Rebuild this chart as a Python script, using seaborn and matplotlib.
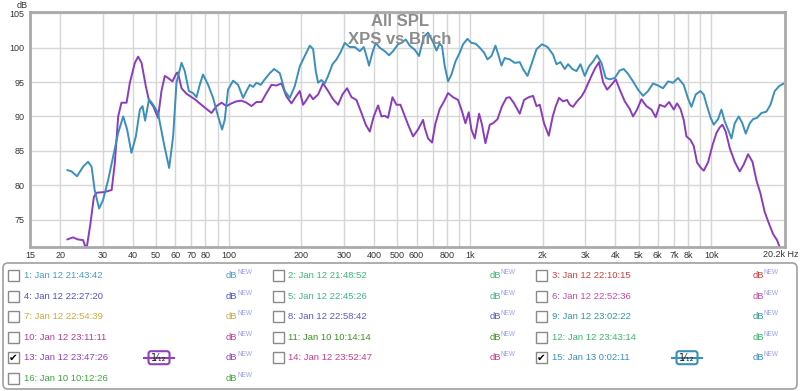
import pandas as pd
import seaborn as sns
import matplotlib.pyplot as plt
from matplotlib.patches import FancyBboxPatch, Rectangle

# Measurement 13 (purple) - frequency in Hz, SPL in dB
freq_13 = [21.4, 22.6, 23.7, 24.9, 25.7, 26.7, 27.6, 28.3, 30.6, 32.7, 33.7, 34.8, 35.9, 37.7, 38.9,
           40.8, 42.1, 43.5, 45.3, 46.7, 48.6, 50.9, 52.6, 54.3, 56.0, 58.4, 60.7, 61.5, 63.7, 66.8,
           72.3, 78.2, 84.8, 88.9, 93.3, 97.8, 102.6, 107.6, 112.9, 118.4, 124.2, 130.2, 136.6, 143.3,
           150.3, 157.6, 165.3, 173.4, 181.9, 188.9, 196.9, 203.2, 209.9, 216.6, 223.6, 234.5, 245.9,
           258.0, 270.5, 283.8, 296.0, 309.3, 322.6, 338.2, 354.7, 369.6, 383.9, 398.9, 415.7, 429.4,
           443.1, 457.2, 476.8, 495.4, 514.7, 527.7, 553.6, 580.6, 608.9, 638.7, 649.2, 669.9, 695.9,
           719.0, 748.9, 780.4, 810.6, 850.2, 891.8, 921.3, 956.9, 987.6, 1013, 1046, 1090, 1121, 1158,
           1207, 1245, 1299, 1357, 1415, 1460, 1522, 1607, 1674, 1751, 1824, 1885, 1945, 2026, 2120,
           2201, 2266, 2338, 2429, 2523, 2589, 2672, 2776, 2895, 2987, 3083, 3185, 3287, 3424, 3558,
           3697, 3855, 4017, 4173, 4377, 4590, 4737, 4921, 5132, 5383, 5646, 5883, 6112, 6412, 6681,
           6987, 7211, 7447, 7684, 7885, 8192, 8455, 8726, 9012, 9300, 9690, 10110, 10500, 10830,
           11120, 11470, 11920, 12500, 13110, 13620, 14200, 14810, 15380, 15980, 16640, 17340, 18020,
           18720, 19200, 19700]
spl_13 = [72.1, 72.4, 72.1, 72.0, 70.6, 74.4, 78.3, 78.9, 79.0, 79.3, 83.2, 90.0, 92.0, 92.0, 94.9,
          97.8, 98.7, 97.8, 94.4, 92.3, 91.5, 89.8, 93.7, 95.9, 95.6, 95.1, 96.3, 96.4, 94.1, 93.3,
          92.5, 91.5, 90.5, 91.5, 92.0, 91.5, 91.9, 92.2, 92.3, 92.0, 91.5, 92.1, 92.1, 93.4,
          94.6, 94.5, 94.8, 92.9, 91.9, 92.8, 93.7, 91.7, 92.4, 93.2, 92.5, 93.2, 94.8,
          93.7, 92.5, 91.7, 93.2, 94.1, 92.8, 92.4, 90.5, 88.8, 87.8, 90.0, 91.6, 90.0,
          90.1, 89.8, 92.8, 91.7, 91.7, 90.7, 88.8, 87.1, 88.1, 89.5, 88.3, 86.8, 86.2,
          89.0, 91.1, 92.2, 93.4, 92.8, 92.4, 91.0, 89.0, 90.6, 88.1, 86.8, 90.4, 88.8, 86.1,
          88.8, 89.0, 89.6, 91.5, 92.7, 92.8, 91.9, 90.4, 92.4, 92.8, 93.0, 91.5, 91.7, 89.0, 87.2,
          90.0, 91.5, 92.7, 92.2, 92.4, 91.7, 91.4, 92.2, 92.9, 93.7, 94.8, 95.9, 96.9, 97.9, 95.0,
          93.9, 94.6, 95.4, 93.9, 92.2, 91.1, 90.0, 91.0, 92.5, 91.5, 91.0, 89.9, 91.7, 91.4, 92.1,
          91.0, 91.9, 91.1, 89.5, 87.1, 86.6, 85.7, 83.3, 82.6, 82.1, 83.3, 85.8, 87.6, 88.4,
          88.8, 87.8, 85.4, 83.4, 82.0, 83.0, 84.5, 83.4, 80.7, 78.8, 76.1, 74.4, 72.9,
          72.0, 71.0, 70.2]

# Measurement 15 (blue)
freq_15 = [21.4, 22.3, 23.5, 24.9, 26.1, 27.0, 27.8, 29.0, 30.1, 31.6, 33.2, 34.8, 36.5, 37.9, 39.5,
           41.2, 42.8, 43.9, 45.0, 46.7, 48.6, 50.9, 53.8, 56.6, 58.8, 60.7, 63.7, 65.7, 68.3, 71.1,
           73.5, 75.8, 78.2, 82.1, 86.1, 90.3, 93.8, 96.2, 99.3, 104.2, 109.3, 114.6, 118.4, 122.2,
           126.1, 130.2, 135.7, 141.0, 147.9, 154.1, 162.7, 170.7, 179.0, 187.7, 196.9, 206.5, 216.6,
           223.6, 229.4, 234.5, 242.2, 249.9, 258.0, 269.0, 279.5, 290.3, 302.5, 317.3, 332.8, 349.1,
           362.6, 372.1, 381.4, 393.9, 406.5, 422.5, 443.1, 461.6, 479.5, 503.0, 519.6, 541.4, 562.5,
           589.9, 614.6, 643.0, 669.9, 702.7, 725.8, 748.9, 765.6, 785.6, 810.6, 837.3, 870.0, 906.5,
           935.4, 975.5, 1013, 1053, 1097, 1143, 1181, 1227, 1274, 1315, 1349, 1392, 1460, 1532, 1607,
           1658, 1730, 1797, 1885, 1988, 2094, 2208, 2281, 2370, 2469, 2548, 2657, 2761, 2868, 2987,
           3113, 3234, 3359, 3503, 3650, 3792, 3978, 4173, 4335, 4516, 4737, 4969, 5212, 5467, 5735,
           6016, 6309, 6618, 6942, 7278, 7684, 8007, 8272, 8617, 9012, 9300, 9598, 9915, 10230,
           10660, 11010, 11360, 11730, 12120, 12500, 12990, 13450, 13890, 14430, 14890, 15470, 16130,
           16920, 17580, 18310, 19090, 19950]
spl_15 = [82.2, 82.0, 81.3, 82.7, 83.4, 82.7, 79.3, 76.6, 77.8, 80.7, 84.2, 87.6, 90.0, 88.1, 84.7,
          87.1, 91.0, 91.5, 89.4, 92.5, 91.7, 90.5, 86.1, 82.5, 87.1, 94.9, 97.8, 96.6, 93.7, 93.4,
          92.8, 94.6, 96.1, 94.6, 92.7, 90.0, 88.1, 89.5, 93.9, 95.2, 94.6, 92.7, 93.7, 94.6,
          94.3, 94.9, 94.6, 95.4, 96.3, 96.9, 96.3, 93.7, 92.7, 94.4, 97.3, 98.8, 100.3,
          99.8, 96.6, 94.9, 95.3, 94.8, 95.9, 97.6, 98.3, 99.3, 100.7, 100.1, 100.1, 99.5,
          100.1, 98.8, 97.4, 99.3, 100.7, 100.0, 99.5, 98.9, 99.5, 100.5, 100.7, 101.2, 100.3,
          99.7, 98.8, 101.6, 102.2, 100.8, 99.6, 100.6, 100.2, 97.3, 95.1, 96.1, 98.0, 99.3,
          100.5, 101.3, 100.7, 100.6, 100.0, 99.3, 98.3, 98.8, 100.3, 98.8, 97.4, 98.5, 98.3, 97.8, 97.9,
          96.9, 95.9, 97.6, 99.8, 100.5, 100.1, 99.0, 97.6, 97.9, 96.9, 97.6, 96.9, 96.6, 97.6, 95.9,
          97.3, 98.0, 98.9, 97.8, 95.6, 95.4, 95.6, 96.7, 96.9, 96.2, 95.1, 93.9, 93.0, 93.7, 94.8,
          94.5, 94.1, 95.1, 94.9, 95.6, 94.6, 92.6, 91.4, 93.2, 93.7, 93.2, 91.5, 89.9, 88.8,
          89.6, 91.0, 89.3, 88.1, 86.8, 89.0, 90.0, 89.0, 87.5, 89.0, 89.6, 89.8, 90.5,
          90.7, 91.7, 93.7, 94.4, 94.8]

x_ticks = [15, 20, 30, 40, 50, 60, 70, 80, 90, 100, 200, 300, 400, 500, 600, 700, 800, 900,
           1000, 2000, 3000, 4000, 5000, 6000, 7000, 8000, 9000, 10000]
x_tick_labels = ["15", "20", "30", "40", "50", "60", "70", "80", "", "100", "200", "300", "400",
                 "500", "600", "", "800", "", "1k", "2k", "3k", "4k", "5k", "6k", "7k", "8k", "", "10k"]
y_ticks = [75, 80, 85, 90, 95, 100, 105]

legend_labels = ["1: Jan 12 21:43:42", "2: Jan 12 21:48:52", "3: Jan 12 22:10:15",
                 "4: Jan 12 22:27:20", "5: Jan 12 22:45:26", "6: Jan 12 22:52:36",
                 "7: Jan 12 22:54:39", "8: Jan 12 22:58:42", "9: Jan 12 23:02:22",
                 "10: Jan 12 23:11:11", "11: Jan 10 10:14:14", "12: Jan 12 23:43:14",
                 "13: Jan 12 23:47:26", "14: Jan 12 23:52:47", "15: Jan 13 0:02:11",
                 "16: Jan 10 10:12:26"]
legend_colors = ["#4a9bd0", "#3cb878", "#d23c3c",
                 "#5050c8", "#40b488", "#c848a8",
                 "#d0a838", "#5858c8", "#30989a",
                 "#b83c9c", "#3c9020", "#38b868",
                 "#9040c0", "#c83c8c", "#3a8fbb",
                 "#38a838"]
checked = ["13: Jan 12 23:47:26", "15: Jan 13 0:02:11"]

color_13 = "#8a3cbd"
color_15 = "#3a8fbb"

sns.set_style("white")
plt.rcParams["font.family"] = ["Liberation Sans", "DejaVu Sans"]

fig = plt.figure(figsize=(8, 3.91), dpi=100)
ax = fig.add_axes([30 / 800, 1 - 247 / 391, 755 / 800, 235 / 391])

sns.lineplot(x=freq_13, y=spl_13, color=color_13, linewidth=1.4, sort=False, estimator=None, ax=ax)
sns.lineplot(x=freq_15, y=spl_15, color=color_15, linewidth=1.4, sort=False, estimator=None, ax=ax)

ax.set_xscale("log")
ax.set_xlim(15, 20200)
ax.set_ylim(71, 105.2)
ax.set_xticks(x_ticks)
ax.set_xticklabels(x_tick_labels)
ax.minorticks_off()
ax.set_yticks(y_ticks)
ax.tick_params(axis="both", length=0, labelsize=6.5, colors="#333333")
ax.tick_params(axis="x", pad=3)
ax.tick_params(axis="y", pad=4)
ax.grid(True, color="#d6d6d6", linewidth=1)
for s in ax.spines.values():
    s.set_color("#aaaaaa")
    s.set_linewidth(2)
ax.set_xlabel("")
ax.set_ylabel("")

# overlay in pixel coordinates for titles, legend panel and extra labels
ov = fig.add_axes([0, 0, 1, 1])
ov.set_xlim(0, 800)
ov.set_ylim(391, 0)
ov.axis("off")

ov.text(400, 21, "All SPL", ha="center", va="center", fontsize=12, fontweight="bold", color="#8c8c8c")
ov.text(400, 39.5, "XPS vs Birch", ha="center", va="center", fontsize=12, fontweight="bold", color="#8c8c8c")
ov.text(22, 6, "dB", fontsize=6.5, color="#333333", ha="center", va="center")
ov.text(781, 254.5, "20.2k Hz", fontsize=6.5, color="#333333", ha="center", va="center")

ov.add_patch(FancyBboxPatch((3, 263), 794, 126, boxstyle="round,pad=0,rounding_size=5",
                            facecolor="white", edgecolor="#a0a0a0", linewidth=1.2))

col_x = [8, 272.5, 536]
db_x = [226, 489.5, 752.5]
row_y = [275.7, 296.2, 316.7, 337.2, 357.7, 378.2]
for i, (lab, col) in enumerate(zip(legend_labels, legend_colors)):
    r, c = divmod(i, 3)
    x0, y0 = col_x[c], row_y[r]
    ov.add_patch(Rectangle((x0, y0 - 5.5), 11, 11, facecolor="white", edgecolor="#8a8a8a", linewidth=1))
    if lab in checked:
        ov.text(x0 + 5.5, y0 + 0.5, "\u2714", fontsize=7.5, ha="center", va="center", color="black",
                family="DejaVu Sans")
        bx = x0 + 151
        ov.plot([bx - 16, bx + 16], [y0, y0], color=col, linewidth=1.5, solid_capstyle="butt")
        ov.add_patch(FancyBboxPatch((bx - 10.5, y0 - 6.5), 21, 13, boxstyle="round,pad=0,rounding_size=2.5",
                                    facecolor="white", edgecolor=col, linewidth=1.5))
        ov.text(bx, y0, "1\u2044\u2081\u2082", fontsize=7, ha="center", va="center", color="#222222",
                family="DejaVu Sans")
    ov.text(x0 + 16, y0, lab, fontsize=6.8, color=col, ha="left", va="center")
    ov.text(db_x[c], y0, "dB", fontsize=6.8, color=col, ha="left", va="center")
    ov.text(db_x[c] + 11, y0 - 3, "NEW", fontsize=4.7, color="#9aa0ee", ha="left", va="center")

fig.savefig("out.png", dpi=100, facecolor="white")
